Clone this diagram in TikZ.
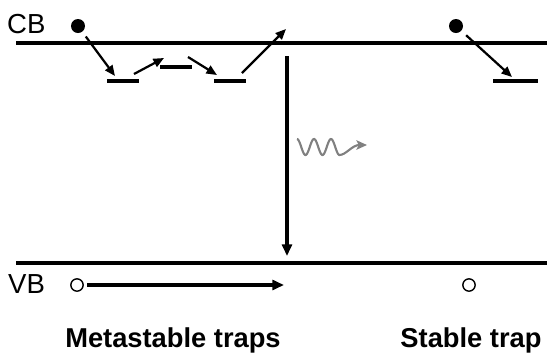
\documentclass[tikz,border=0pt]{standalone}
\usepackage{fontspec}
\setmainfont{Liberation Sans}
\usetikzlibrary{arrows.meta}
\tikzset{
  band/.style   = {line width=2.8pt},
  lvl/.style    = {line width=2.6pt},
  hop/.style    = {line width=1.9pt, -{Triangle[length=9pt,width=7.5pt]}},
  drop/.style   = {line width=2.6pt, -{Triangle[length=10pt,width=8.5pt]}},
  edot/.style   = {circle, fill=black, inner sep=0pt, minimum size=0.42cm},
  hdot/.style   = {circle, draw, line width=1.2pt, inner sep=0pt, minimum size=0.37cm},
  lbl/.style    = {font=\fontsize{23.5}{27}\selectfont, inner sep=0pt, anchor=base west},
  tlbl/.style   = {font=\bfseries\fontsize{23.3}{27}\selectfont, inner sep=0pt, anchor=base},
  photon/.style = {draw=black!50, line width=1.8pt, -{Stealth[length=9pt,width=8pt,inset=2pt]}},
}

\begin{document}
\begin{tikzpicture}[x=0.03cm, y=-0.03cm]
  \useasboundingbox (0,0) rectangle (547,354);
  % bands
  \draw[band] (16,43) coordinate (cbl) -- (547,43) coordinate (cbr);
  \draw[band] (16,263) coordinate (vbl) -- (547,263) coordinate (vbr);
  \node[lbl] (cb) at (7,33) {CB};
  \node[lbl] (vb) at (8,293) {VB};
  % trap levels
  \draw[lvl] (107,81) coordinate (t1a) -- (139,81) coordinate (t1b);
  \draw[lvl] (160,67) coordinate (t2a) -- (192,67) coordinate (t2b);
  \draw[lvl] (214,81) coordinate (t3a) -- (246,81) coordinate (t3b);
  \draw[lvl] (493,81) coordinate (t4a) -- (538,81) coordinate (t4b);
  % carriers
  \node[edot] (e1) at (78,26) {};
  \node[edot] (e2) at (456,26) {};
  \node[hdot] (h1) at (77,285) {};
  \node[hdot] (h2) at (469,285) {};
  % hopping
  \coordinate (p1) at (115,76);
  \coordinate (p2a) at (134,74);
  \coordinate (p2b) at (164,58);
  \coordinate (p3a) at (188,57);
  \coordinate (p3b) at (217,75);
  \coordinate (p4a) at (242,73);
  \coordinate (p4b) at (286,29);
  \coordinate (p5) at (512,77);
  \draw[hop, shorten <=5pt] (e1) -- (p1);
  \draw[hop] (p2a) -- (p2b);
  \draw[hop] (p3a) -- (p3b);
  \draw[hop] (p4a) -- (p4b);
  \draw[hop, shorten <=5.5pt] (e2) -- (p5);
  % recombination
  \coordinate (r1) at (287,56);
  \coordinate (r2) at (287,256);
  \draw[drop] (r1) -- (r2);
  \coordinate (q1) at (284,285);
  \draw[drop, shorten <=3pt] (h1) -- (q1);
  % emitted light
  \coordinate (l1) at (367,145);
  \draw[photon] plot[domain=0:2.5, samples=80, smooth] ({297+17*\x},{147-8*cos(360*\x)})
    .. controls (346,155) and (352,145) .. (l1);
  \node[tlbl] (ms) at (173,347) {Metastable traps};
  \node[tlbl] (st) at (471,347) {Stable trap};
\end{tikzpicture}
\end{document}
